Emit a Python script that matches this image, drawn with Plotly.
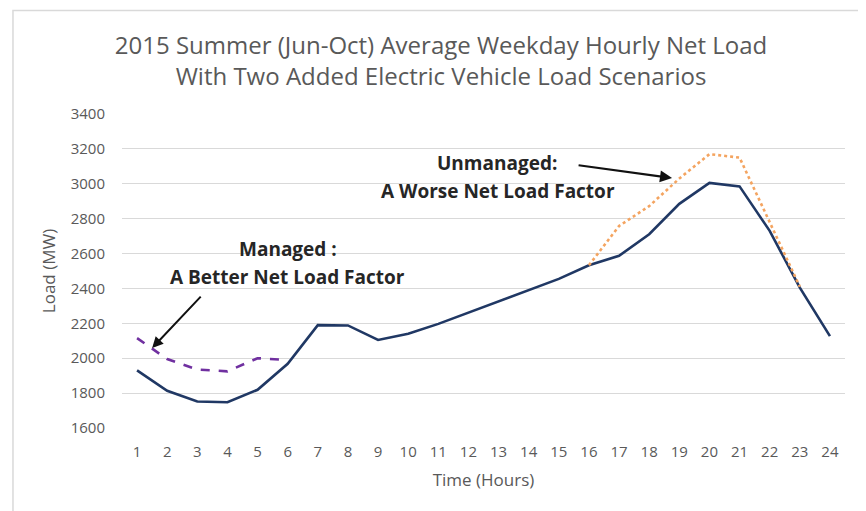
import plotly.graph_objects as go

hours = list(range(1, 25))
net_load = [1930, 1813, 1752, 1748, 1819, 1968, 2190, 2188, 2105, 2140,
            2197, 2262, 2326, 2393, 2455, 2533, 2587, 2711, 2885, 3005,
            2985, 2730, 2405, 2127]

managed_hours = [1, 2, 3, 4, 5, 6]
managed_load = [2115, 1995, 1935, 1925, 2000, 1990]

unmanaged_hours = [16, 17, 18, 19, 20, 21, 22, 23]
unmanaged_load = [2533, 2758, 2872, 3030, 3170, 3150, 2780, 2410]

y_ticks = [1600, 1800, 2000, 2200, 2400, 2600, 2800, 3000, 3200, 3400]

grey = "#595959"
font = "Open Sans"

fig = go.Figure()
fig.add_trace(go.Scatter(x=hours, y=net_load, mode="lines",
                         line=dict(color="#203864", width=2.6)))
fig.add_trace(go.Scatter(x=managed_hours, y=managed_load, mode="lines",
                         line=dict(color="#7030A0", width=2.6, dash="dash")))
fig.add_trace(go.Scatter(x=unmanaged_hours, y=unmanaged_load, mode="lines",
                         line=dict(color="#F4A460", width=2.6, dash="dot")))

# labels with arrows
fig.add_annotation(x=1.5, y=2058, ax=50, ay=-53, text="", showarrow=True,
                   arrowhead=2, arrowsize=1.1, arrowwidth=2, arrowcolor="#111111")
fig.add_annotation(x=18.76, y=3033, ax=-95, ay=-13, text="", showarrow=True,
                   arrowhead=2, arrowsize=1.1, arrowwidth=2.2, arrowcolor="#111111")
for txt, x, y in [("Managed :", 6.01, 2626),
                  ("A Better Net Load Factor", 6.01, 2466),
                  ("Unmanaged:", 12.95, 3119),
                  ("A Worse Net Load Factor", 12.98, 2959)]:
    fig.add_annotation(x=x, y=y, text="<b>" + txt + "</b>", showarrow=False,
                       font=dict(family=font, size=19, color="#262626"))

# outer chart border
fig.add_shape(type="rect", xref="paper", yref="paper",
              x0=-0.1508, x1=1.2, y0=-0.4, y1=1.33,
              line=dict(color="#d9d9d9", width=1.5), layer="below")

fig.update_layout(
    width=866, height=511,
    margin=dict(l=114, r=29, t=106, b=91),
    paper_bgcolor="white", plot_bgcolor="white",
    showlegend=False,
    font=dict(family=font, color=grey),
    title=dict(text="2015 Summer (Jun-Oct) Average Weekday Hourly Net Load<br>"
                    "With Two Added Electric Vehicle Load Scenarios",
               x=0.5, xanchor="center", y=0.91, yanchor="middle",
               font=dict(family=font, size=24, color=grey)),
    xaxis=dict(range=[0.5, 24.5], tickmode="array", tickvals=hours,
               showgrid=False, zeroline=False, showline=False, ticks="",
               ticklabelstandoff=13,
               tickfont=dict(size=15, color=grey),
               title=dict(text="Time (Hours)", font=dict(size=17, color=grey), standoff=14)),
    yaxis=dict(range=[1600, 3400], tickmode="array", tickvals=y_ticks,
               showgrid=True, gridcolor="#d9d9d9", gridwidth=1, zeroline=False,
               showline=False, ticks="", ticklabelstandoff=16,
               tickfont=dict(size=15, color=grey),
               title=dict(text="Load (MW)", font=dict(size=17, color=grey), standoff=10)),
)

fig.write_html("out.html")
